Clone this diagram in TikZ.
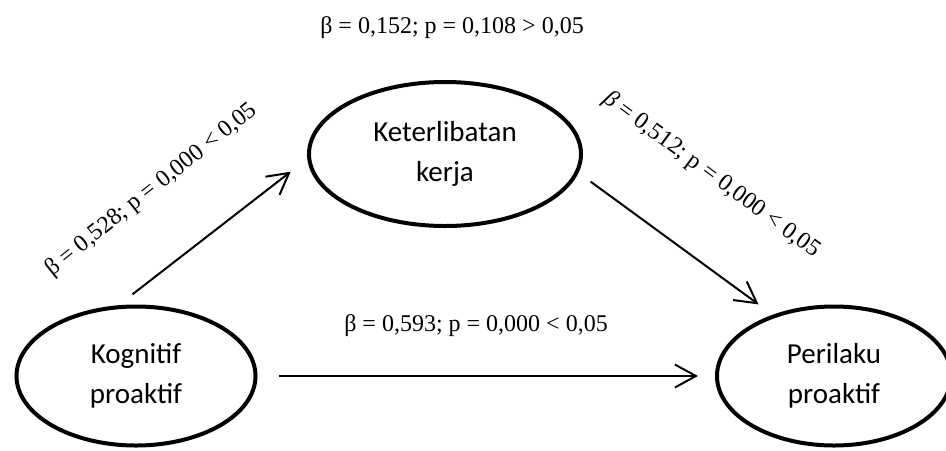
\documentclass[tikz,border=0pt]{standalone}
\usepackage{fontspec}
\setmainfont{Liberation Serif}
\newfontfamily\calibri{Carlito}
\usetikzlibrary{shapes.geometric,arrows.meta}
\begin{document}
\begin{tikzpicture}[x=0.5pt, y=-0.5pt,
    latent/.style={ellipse, draw, line width=2pt, inner sep=0pt, align=center,
        font=\calibri\fontsize{14.5}{20}\selectfont},
    effect/.style={-{Straight Barb[length=10.5pt,width=11.5pt,line width=1pt]}, line width=1pt},
    coef/.style={font=\fontsize{12}{14}\selectfont, inner sep=0pt}]
    \useasboundingbox (0,0) rectangle (946,450);

    % Latent variables
    \node[latent, minimum width=119.5pt, minimum height=69.5pt] (kog) at (136,376) {Kognitif\\proaktif};
    \node[latent, minimum width=136pt, minimum height=72pt] (ket) at (445,154) {Keterlibatan\\kerja};
    \node[latent, minimum width=117pt, minimum height=69.5pt] (per) at (834,376) {Perilaku\\proaktif};

    % Paths
    \draw[effect, shorten <=9pt, shorten >=10.5pt] (kog.104) -- (ket.182);
    \draw[effect, shorten <=7.5pt, shorten >=8.75pt] (ket.352) -- (per.135);
    \draw[effect, shorten <=10.5pt, shorten >=8.5pt] (kog.east) -- (per.west);

    % Coefficients
    \node[coef] (b-top) at (452,28) {β = 0,152; p = 0,108 > 0,05};
    \node[coef, rotate=38.5] (b-a) at (151.5,190) {β = 0,528; p = 0,000 < 0,05};
    \node[coef, rotate=-36.5] (b-b) at (711.5,175) {\textit{β} = 0,512; p = 0,000 < 0,05};
    \node[coef] (b-c) at (476,326) {β = 0,593; p = 0,000 < 0,05};
\end{tikzpicture}
\end{document}
